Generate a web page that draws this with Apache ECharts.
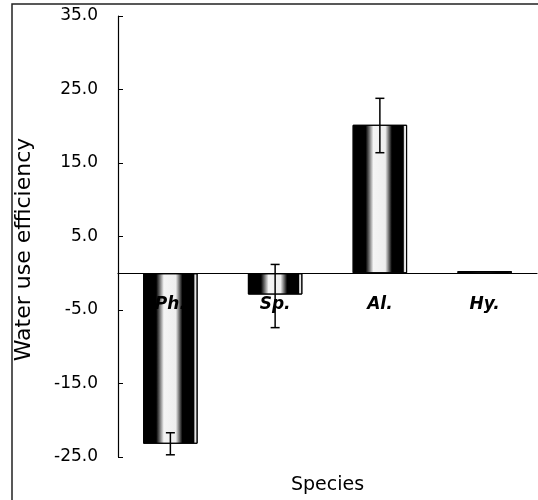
<!DOCTYPE html>
<html>
<head>
<meta charset="utf-8">
<script src="https://cdn.jsdelivr.net/npm/echarts@6/dist/echarts.min.js"></script>
<style>html,body{margin:0;padding:0;background:#fff}#c{width:538px;height:500px}</style>
</head>
<body>
<div id="c"></div>
<script>
var categories = ['Ph.', 'Sp.', 'Al.', 'Hy.'];
var values = [-23.2, -2.9, 20.2, 0.3];
var errLow = [-24.7, -7.4, 16.4, null];
var errHigh = [-21.7, 1.2, 23.8, null];
var yTicks = { min: -25, max: 35, interval: 10 };

var errData = [];
for (var i = 0; i < categories.length; i++) {
  if (errLow[i] != null) errData.push([i, errLow[i], errHigh[i]]);
}

var barFill = {
  type: 'linear', x: 0, y: 0, x2: 1, y2: 0,
  colorStops: [
    { offset: 0, color: '#000' },
    { offset: 0.24, color: '#000' },
    { offset: 0.31, color: '#777' },
    { offset: 0.38, color: '#f4f4f4' },
    { offset: 0.6, color: '#eeeeee' },
    { offset: 0.66, color: '#777' },
    { offset: 0.72, color: '#000' },
    { offset: 0.93, color: '#000' },
    { offset: 0.95, color: '#ddd' },
    { offset: 1, color: '#fff' }
  ]
};

var chart = echarts.init(document.getElementById('c'));
chart.setOption({
  animation: false,
  backgroundColor: '#fff',
  grid: { left: 118, right: 1, top: 16, bottom: 43, containLabel: false, outerBoundsMode: 'none' },
  graphic: [{
    type: 'rect', shape: { x: 12, y: 4, width: 700, height: 700 },
    style: { fill: 'none', stroke: '#222', lineWidth: 1.5 }, z: 100
  }],
  xAxis: {
    type: 'category', data: categories, z: 10, offset: 0,
    axisLine: { onZero: false, lineStyle: { color: '#000', width: 1.2 } },
    axisTick: { inside: true, length: 5, lineStyle: { color: '#000' } },
    axisLabel: { margin: 23, color: '#000', fontFamily: 'DejaVu Sans', fontSize: 17, fontStyle: 'italic', fontWeight: 'bold' },
    name: 'Species', nameLocation: 'middle', nameGap: 19,
    nameTextStyle: { color: '#000', fontFamily: 'DejaVu Sans', fontSize: 19 }
  },
  yAxis: {
    type: 'value', min: yTicks.min, max: yTicks.max, interval: yTicks.interval,
    splitLine: { show: false },
    axisLine: { show: true, lineStyle: { color: '#000', width: 1.2 } },
    axisTick: { show: true, inside: true, length: 5, lineStyle: { color: '#000' } },
    axisLabel: { margin: 20, color: '#000', fontFamily: 'DejaVu Sans', fontSize: 17,
      formatter: function (v) { return v.toFixed(1); } },
    name: 'Water use efficiency', nameLocation: 'middle', nameGap: 83, nameRotate: 90,
    nameTextStyle: { color: '#000', fontFamily: 'DejaVu Sans', fontSize: 22, padding: [0, 26, 0, 0] }
  },
  series: [{
    type: 'bar', data: values, barWidth: '52%',
    itemStyle: { color: barFill, borderColor: '#000', borderWidth: 1 }
  }, {
    type: 'custom', data: errData, z: 5,
    renderItem: function (params, api) {
      var x = api.value(0);
      var lo = api.coord([x, api.value(1)]);
      var hi = api.coord([x, api.value(2)]);
      var w = 4.5;
      var st = { stroke: '#000', lineWidth: 1.5 };
      return {
        type: 'group', children: [
          { type: 'line', shape: { x1: lo[0], y1: lo[1], x2: hi[0], y2: hi[1] }, style: st },
          { type: 'line', shape: { x1: lo[0] - w, y1: lo[1], x2: lo[0] + w, y2: lo[1] }, style: st },
          { type: 'line', shape: { x1: hi[0] - w, y1: hi[1], x2: hi[0] + w, y2: hi[1] }, style: st }
        ]
      };
    }
  }]
});

// Move the category axis (line, ticks, labels) up to the zero line, keep the name at the bottom.
var zeroY = chart.convertToPixel({ yAxisIndex: 0 }, 0);
var bottomY = chart.convertToPixel({ yAxisIndex: 0 }, yTicks.min);
var shift = bottomY - zeroY;
chart.setOption({ xAxis: { offset: -shift, nameGap: 19 + shift } });
</script>
</body>
</html>
